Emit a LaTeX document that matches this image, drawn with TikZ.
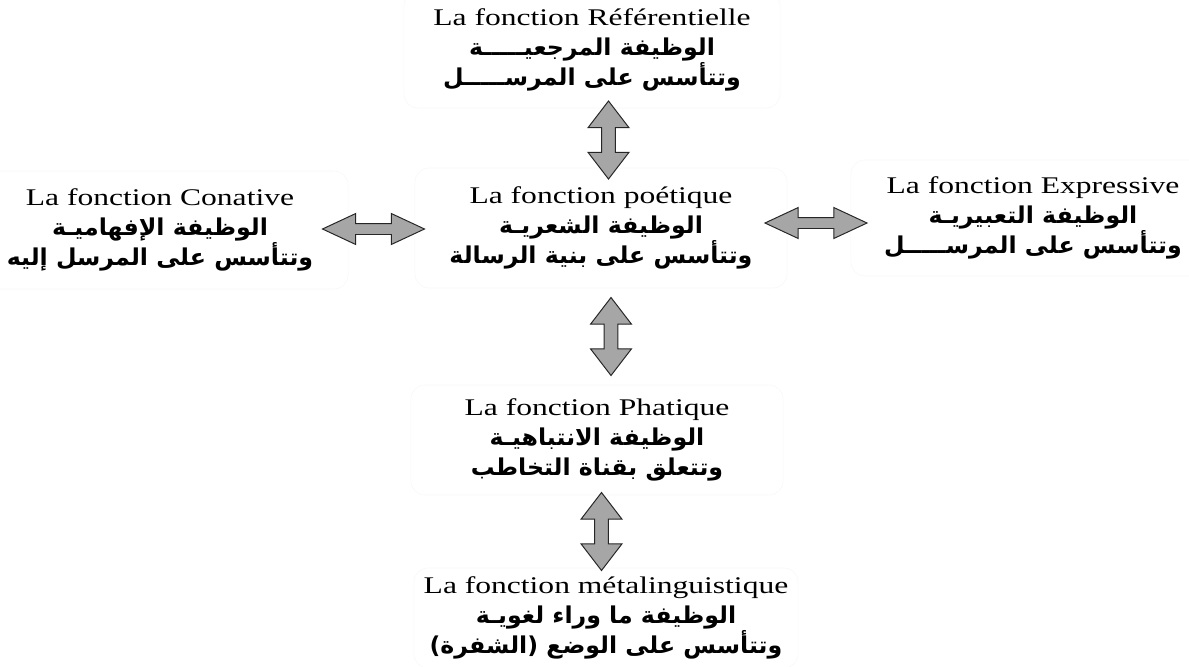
\documentclass[tikz,border=0pt]{standalone}
\usepackage{fontspec}
\setmainfont{Liberation Serif}[FakeStretch=1.32]
\newfontfamily\arabicfont[Script=Arabic,FakeStretch=1.02]{DejaVu Sans}
\TeXXeTstate=1
\usetikzlibrary{calc,shapes.arrows}
\newcommand{\arline}[1]{{\arabicfont\bfseries\fontsize{16.5}{21.5}\selectfont\beginR #1\endR}}

\begin{document}
\begin{tikzpicture}[x=0.025cm,y=-0.025cm,font=\fontsize{17}{21.5}\selectfont]
\tikzstyle{fn}=[draw=black!3,rounded corners=10pt,align=center,inner sep=0pt]
\tikzstyle{dbl}=[double arrow,draw=black!85,fill=black!35,line width=0.7pt,inner sep=0.16cm,double arrow head extend=0.34cm,double arrow tip angle=75,minimum height=1.95cm]
\tikzstyle{dblh}=[dbl,inner sep=0.125cm,double arrow head extend=0.25cm,double arrow tip angle=50,minimum height=2.55cm]
\useasboundingbox (0,0) rectangle (1189,666);
% the six functions
\node[fn,minimum width=9.4cm,minimum height=2.9cm] (ref) at (592,50) {La fonction Référentielle\\\arline{الوظيفة المرجعيـــــة}\\\arline{وتتأسس على المرســـــل}};
\node[fn,minimum width=9.3cm,minimum height=3cm] (poet) at (601,228) {La fonction poétique\\\arline{الوظيفة الشعريـة}\\\arline{وتتأسس على بنية الرسالة}};
\node[fn,minimum width=9.4cm,minimum height=2.95cm] (conat) at (160,230) {La fonction Conative\\\arline{الوظيفة الإفهاميـة}\\\arline{وتتأسس على المرسل إليه}};
\node[fn,minimum width=9.1cm,minimum height=2.9cm] (expr) at (1033,218) {La fonction Expressive\\\arline{الوظيفة التعبيريـة}\\\arline{وتتأسس على المرســـــل}};
\node[fn,minimum width=9.3cm,minimum height=2.75cm] (phat) at (597,440) {La fonction Phatique\\\arline{الوظيفة الانتباهيـة}\\\arline{وتتعلق بقناة التخاطب}};
\node[fn,minimum width=9.6cm,minimum height=2.5cm] (meta) at (606,618) {La fonction métalinguistique\\\arline{الوظيفة ما وراء لغويـة}\\\arline{وتتأسس على الوضع (الشفرة)}};
% block arrows between them
\node[dbl,rotate=90] (a1) at ($(ref.south)!0.5!(poet.north)+(12,2)$) {};
\node[dbl,rotate=90] (a2) at ($(poet.south)!0.5!(phat.north)+(12,0)$) {};
\node[dbl,rotate=90] (a3) at ($(phat.south)!0.5!(meta.north)$) {};
\node[dblh] (a4) at ($(conat.east)!0.5!(poet.west)+(-8,0)$) {};
\node[dblh] (a5) at ($(poet.east)!0.5!(expr.west)+(-3,0)$) {};
\end{tikzpicture}
\end{document}
